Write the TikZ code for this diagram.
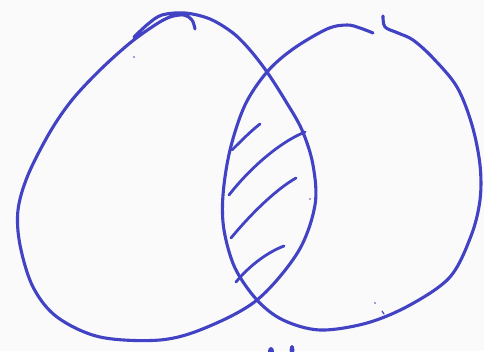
\documentclass[tikz,border=0pt]{standalone}
\begin{document}
\begin{tikzpicture}[x=1pt,y=-1pt,
  pen/.style={draw=penblue,line width=3.1pt,line cap=round,line join=round},
  hatch/.style={draw=penblue,line width=2.8pt,line cap=round}]
\definecolor{penblue}{RGB}{66,66,196}
\definecolor{paper}{RGB}{250,250,251}
\fill[fill=paper] (0,0) rectangle (484,351);
\useasboundingbox (0,0) rectangle (484,351);
% left loop
\draw[pen] plot[smooth,tension=0.55] coordinates {
 (195,29) (192,20) (184,15) (170,17) (155,25) (130,43) (100,70) (72,100) (50,132)
 (28,175) (18,210) (20,245) (33,287) (57,317) (100,337) (160,340) (205,328)
 (257,300) (298,252) (315,205) (313,165) (302,130) (285,100) (267,72) (250,50)
 (233,33) (210,19) (185,13) (162,15) (148,24) (134,37)};
% right loop
\draw[pen] plot[smooth,tension=0.55] coordinates {
 (383,16) (385,27) (398,33) (413,40) (433,58) (457,87) (472,125) (480,165)
 (480,200) (471,236) (450,277) (410,305) (367,323) (320,330) (283,320)
 (257,300) (235,268) (224,230) (223,195) (230,150) (245,105) (267,72)
 (293,49) (327,29) (347,25) (360,28) (373,33)};
% hatching
\draw[hatch] (232,150) .. controls (242,140) and (252,130) .. (260,124);
\draw[hatch] (229,195) .. controls (250,168) and (280,142) .. (305,132);
\draw[hatch] (231,238) .. controls (250,215) and (275,190) .. (296,178);
\draw[hatch] (236,282) .. controls (250,265) and (268,252) .. (284,246);
% specks and cut-off marks
\fill[penblue] (134,57) circle (0.9);
\fill[penblue] (310,199) circle (0.9);
\fill[penblue] (375,303) circle (0.8);
\draw[penblue,line width=1.2pt,line cap=round] (382,311) -- (384,314);
\fill[penblue] (271,351) ellipse (3 and 4);
\fill[penblue] (292,350) ellipse (2.5 and 5);
\end{tikzpicture}
\end{document}
